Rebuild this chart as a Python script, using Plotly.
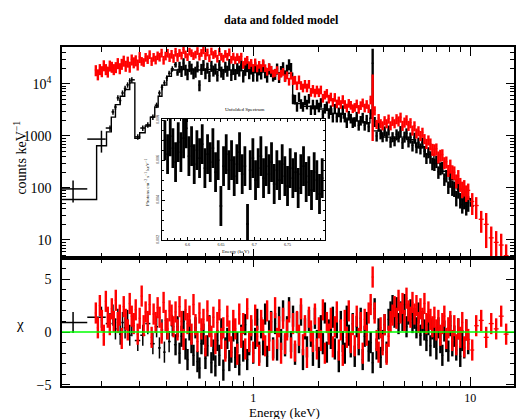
import numpy as np
import plotly.graph_objects as go

# ---------------- channel grid (keV) ----------------
channel_energy = [
    0.1884, 0.1925, 0.1966, 0.2008, 0.2050, 0.2095, 0.2139, 0.2185, 0.2232, 0.2279,
    0.2328, 0.2378, 0.2429, 0.2480, 0.2533, 0.2587, 0.2643, 0.2699, 0.2757, 0.2816,
    0.2876, 0.2937, 0.3000, 0.3064, 0.3130, 0.3196, 0.3265, 0.3334, 0.3406, 0.3478,
    0.3553, 0.3629, 0.3706, 0.3785, 0.3866, 0.3949, 0.4033, 0.4119, 0.4207, 0.4297,
    0.4389, 0.4482, 0.4578, 0.4676, 0.4776, 0.4878, 0.4982, 0.5088, 0.5197, 0.5308,
    0.5421, 0.5537, 0.5655, 0.5776, 0.5899, 0.6025, 0.6153, 0.6284, 0.6419, 0.6556,
    0.6695, 0.6838, 0.6984, 0.7133, 0.7286, 0.7441, 0.7600, 0.7762, 0.7928, 0.8097,
    0.8270, 0.8446, 0.8627, 0.8811, 0.8999, 0.9190, 0.9386, 0.9586, 0.9791, 1.0000,
    1.0214, 1.0432, 1.0654, 1.0882, 1.1114, 1.1351, 1.1593, 1.1841, 1.2093, 1.2352,
    1.2615, 1.2884, 1.3159, 1.3440, 1.3727, 1.4020, 1.4319, 1.4625, 1.4937, 1.5256,
    1.5581, 1.5914, 1.6254, 1.6600, 1.6955, 1.7317, 1.7686, 1.8064, 1.8449, 1.8843,
    1.9245, 1.9656, 2.0076, 2.0504, 2.0942, 2.1389, 2.1845, 2.2311, 2.2788, 2.3274,
    2.3771, 2.4278, 2.4796, 2.5325, 2.5866, 2.6418, 2.6982, 2.7558, 2.8146, 2.8747,
    2.9360, 2.9987, 3.0627, 3.1281, 3.1948, 3.2630, 3.3327, 3.4038, 3.4764, 3.5506,
    3.6264, 3.7038, 3.7829, 3.8636, 3.9461, 4.0303, 4.1163, 4.2042, 4.2939, 4.3856,
    4.4792, 4.5748, 4.6724, 4.7722, 4.8740, 4.9781, 5.0843, 5.1928, 5.3037, 5.4169,
    5.5325, 5.6506, 5.7712, 5.8944, 6.0202, 6.1487, 6.2799, 6.4140, 6.5509, 6.6907,
    6.8335, 6.9793, 7.1283, 7.2805, 7.4359, 7.5946, 7.7567, 7.9222, 8.0913, 8.2640,
    8.4404, 8.6205, 8.8045, 8.9924, 9.1844, 9.3804, 9.5806, 9.7851,
    10.21, 10.65, 11.23, 11.84, 12.49, 13.16, 13.88, 14.63,
]

# ---------------- red spectrum (counts/keV) and residuals ----------------
red_counts = [
    18500, 15400, 19400, 17700, 23000, 19400, 17400, 22700, 21500, 19400,
    21200, 25300, 20200, 24500, 28200, 22500, 27000, 21600, 29700, 26200,
    28600, 23800, 33100, 27600, 26300, 33000, 29900, 37200, 27400, 33000,
    29300, 35300, 33200, 39800, 29000, 35000, 39600, 32700, 37800, 31400,
    41400, 33000, 39900, 35500, 45400, 37500, 33200, 42300, 39500, 34800,
    37100, 43500, 34000, 40000, 44900, 34800, 40800, 31700, 42600, 36400,
    38500, 31000, 41800, 33700, 31200, 38200, 33800, 41000, 29600, 34000,
    28800, 33200, 29700, 33900, 23500, 27300, 29400, 23200, 25700, 20600,
    26300, 20200, 23600, 20500, 25400, 20400, 17400, 21300, 19000, 16000,
    16500, 18700, 14200, 16000, 17300, 13100, 14800, 11200, 14600, 11800,
    12000, 9400, 12200, 9500, 8500, 10000, 8500, 10000, 7000, 8000,
    6800, 7800, 6900, 7800, 5400, 6200, 6700, 5200, 5700, 4500,
    5600, 4200, 4800, 4100, 5100, 4100, 3500, 4300, 3950, 3400,
    3600, 4200, 3300, 3900, 4400, 3500, 4100, 3400, 5000, 8000,
    3100, 1700, 2200, 1750, 1600, 2000, 1750, 2150, 1600, 1950,
    1750, 2150, 1950, 2300, 1600, 1850, 2050, 1600, 1800, 1300,
    1570, 1140, 1260, 1020, 1180, 890, 720, 840, 710, 560,
    550, 570, 400, 430, 440, 310, 320, 220, 270, 210,
    200, 140, 170, 120, 98, 105, 83, 90,
    55, 46, 25, 20, 11, 9, 8, 5,
]
red_chi = [
    1.8, 0.4, 2.5, 1.1, -0.3, 2.9, 1.4, 0.7, 2.2, 1.0,
    3.0, 0.9, 1.6, -0.6, 2.4, 1.2, 0.2, 2.7, 1.5, 0.8,
    2.1, -0.2, 1.3, 3.4, 0.6, 1.9, 1.0, 2.6, -0.5, 1.7,
    0.9, 2.3, 1.4, -0.1, 2.8, 1.1, 0.3, 2.0, 1.6, 0.5,
    1.9, 0.2, 2.4, 1.0, -0.7, 2.1, 0.8, 1.5, -0.2, 2.6,
    0.7, -0.9, 1.8, 0.3, 1.2, -1.3, 2.0, 0.5, -0.4, 1.4,
    -1.1, 0.9, 2.1, -0.6, 0.4, -1.8, 1.5, 0.1, -1.4, 1.1,
    0.3, -2.1, 1.7, -0.5, 0.8, -1.6, 2.2, -0.9, 0.6, -1.9,
    1.6, -0.4, -2.2, 1.1, 0.2, -1.3, 2.0, -0.8, 0.9, -1.7,
    2.3, -0.6, 0.5, -2.0, 1.3, -1.1, 0.2, 1.9, -1.5, 0.8,
    -1.8, 1.0, -0.3, 2.2, -1.2, 0.6, -2.4, 1.4, 0.1, -0.9,
    1.7, -1.6, 0.4, -0.8, 2.1, -2.0, 0.9, -0.2, 1.3, -1.4,
    0.5, 1.9, -1.7, 0.2, -2.2, 1.1, -0.5, 2.0, -1.0, 0.7,
    -1.3, 1.5, -0.6, 0.9, -2.0, 1.2, -0.3, 1.8, 2.6, 5.2,
    1.8, -0.8, -1.9, 0.4, -1.2, 0.7, -2.1, -0.4, 1.0, 1.6,
    2.4, 1.3, 3.0, 1.8, 2.7, 1.1, 3.2, 2.0, 1.4, 2.8,
    1.7, 2.5, 0.9, 2.2, 1.3, 2.7, 0.8, 1.9, 1.2, 0.5,
    1.4, 0.2, 1.1, -0.3, 0.8, 1.5, -0.6, 0.4, 1.0, -0.8,
    0.6, -1.2, 0.3, -0.5, 0.9, -1.4, 0.2, -0.7,
    -1.7, 0.6, 1.1, -0.5, 0.8, 0.3, 1.5, -0.2,
]

# ---------------- black spectrum ----------------
# broad low-energy bins, followed by the shared channel grid from 0.439 to 9.79 keV
black_low_energy = [
    0.148, 0.200, 0.219, 0.226, 0.232, 0.238, 0.244, 0.250, 0.257, 0.264,
    0.270, 0.276, 0.294, 0.310, 0.327, 0.345, 0.359, 0.370, 0.380, 0.390,
    0.400, 0.410, 0.424,
]
BLACK_GRID = slice(40, 188)
black_counts = [
    96, 870, 1420, 2900, 3600, 5400, 4800, 6700, 8200, 9600,
    11500, 12000, 960, 1420, 1630, 2300, 3900, 6700, 8600, 10500,
    13000, 16000, 19500,
    23500, 16300, 21500, 17900, 25200, 18900, 15500, 22200, 19800, 16200,
    17300, 21900, 9500, 19600, 23200, 16200, 20700, 14300, 22400, 18200,
    19800, 14600, 23200, 17400, 15700, 21500, 18100, 24300, 15000, 19600,
    15600, 20200, 18200, 23000, 14000, 18800, 22100, 16200, 19900, 14500,
    21000, 14600, 19200, 16000, 22600, 16900, 13900, 19900, 17800, 14600,
    15700, 19900, 13700, 17800, 21100, 14700, 18900, 24000, 20400, 5200,
    5100, 3700, 5700, 4200, 3700, 4900, 4100, 5300, 3200, 4100,
    3200, 4100, 3600, 4400, 2600, 3400, 3800, 2700, 3200, 2300,
    3400, 2300, 2900, 2300, 3200, 2300, 1800, 2500, 2200, 1800,
    1900, 2400, 1600, 2000, 2300, 1600, 2100, 1500, 2700, 25000,
    1900, 1000, 1550, 1100, 970, 1250, 1000, 1300, 760, 970,
    810, 1080, 990, 1250, 740, 980, 1130, 790, 940, 660,
    930, 610, 750, 580, 750, 510, 380, 490, 400, 300,
    290, 330, 205, 240, 250, 150, 175, 105, 150, 105,
    100, 66, 93, 60, 48, 58, 44, 52,
]
black_chi = [
    0.9, 1.4, 0.8, 1.6, 0.3, 1.2, -0.2, 0.9, 0.4, 1.1,
    -0.3, 0.6, -0.8, -0.3, 0.8, -1.1, 0.5, -1.5, 0.2, -1.9,
    0.3, -0.9, 0.6,
    -1.2, 0.5, -2.0, -0.4, 1.0, -1.6, -2.6, 0.2, -1.0, -2.2,
    0.4, -2.8, -3.4, -1.1, -0.2, -2.5, -1.3, 0.6, -2.9, -1.7,
    -3.2, -0.8, -2.2, 0.3, -3.6, -1.5, -0.6, -2.7, -1.9, 0.1,
    -2.4, -1.0, -3.1, -0.3, -1.8, 0.7, -2.6, -1.2, 0.2, -2.0,
    -0.6, 1.2, -1.9, 0.4, -1.2, 1.7, -2.3, 0.1, 1.0, -1.5,
    0.8, -1.7, 1.4, -0.7, 2.0, -1.3, 0.5, 2.3, -0.9, 1.5,
    -2.1, 0.9, -1.0, 1.6, -2.6, 0.3, -1.4, 1.1, -0.4, -2.2,
    1.3, -0.8, -2.4, 0.6, -1.1, 1.8, -1.9, 0.2, -0.6, 1.4,
    -1.6, 0.4, -2.8, 1.0, -0.9, -2.0, 1.5, -0.3, -1.4, 0.8,
    -2.3, 0.5, -1.2, 1.3, -2.6, -0.4, 0.9, -1.8, -1.0, -2.9,
    2.2, -1.6, 0.3, -2.4, -0.8, 0.7, -1.9, 1.2, 1.9, 2.5,
    1.4, 2.3, 0.8, 1.9, 1.1, 2.6, 0.5, 1.7, 2.1, 0.9,
    1.3, 0.4, 1.8, -0.3, 1.0, 0.2, -0.8, 0.7, -1.3, 0.3,
    -0.5, -1.6, 0.4, -1.0, -2.2, 0.1, -0.9, -1.8, 0.6, -1.3,
    -0.4, -1.7, 0.3, -2.3, -0.8, -1.5, 0.2, -1.1,
]
N_BLACK_WIDE = len(black_low_energy)

# fractional 1-sigma errors by energy band: (upper edge keV, fraction)
red_error_bands = [(0.30, 0.24), (0.45, 0.19), (1.5, 0.17), (3.50, 0.19), (3.60, 0.90),
                   (4.5, 0.20), (6.5, 0.22), (8.0, 0.26), (9.0, 0.30), (10.0, 0.35),
                   (11.5, 0.45), (20.0, 0.65)]
black_error_bands = [(0.20, 0.45), (0.45, 0.12), (1.5, 0.24), (3.50, 0.21), (3.60, 0.90),
                     (4.5, 0.22), (6.5, 0.24), (8.0, 0.27), (20.0, 0.33)]

# folded model for the black spectrum, as a histogram (left bin edges)
black_model_edges = [
    0.132, 0.190, 0.211, 0.222, 0.232, 0.244, 0.256, 0.270, 0.285, 0.300,
    0.318, 0.336, 0.352, 0.365, 0.380, 0.400, 0.420, 0.450, 0.500, 0.600,
    0.700, 0.800, 0.900, 1.000, 1.200, 1.400, 1.520, 1.700, 2.000, 2.300,
    2.600, 2.900, 3.200, 3.450, 3.550, 3.900, 4.300, 4.700, 5.100, 5.600,
    6.200, 6.800, 7.400, 8.000, 8.700, 9.400, 10.00, 10.40,
]
black_model = [
    60, 650, 1200, 2300, 4000, 5800, 7800, 10500, 900, 1150,
    1550, 2300, 3600, 5800, 9500, 14000, 18500, 19000, 18500, 19000,
    18500, 18000, 17500, 17000, 16500, 16000, 4200, 3700, 3300, 2700,
    2200, 1950, 1800, 2200, 1250, 950, 900, 950, 850, 620,
    440, 300, 210, 145, 95, 62, 45, 45,
]

# Fe K region of the unfolded spectrum (photons cm^-2 s^-1 keV^-1)
inset_energy = [
    6.566, 6.570, 6.574, 6.578, 6.582, 6.586, 6.590, 6.594, 6.598, 6.602,
    6.606, 6.610, 6.614, 6.618, 6.622, 6.626, 6.630, 6.634, 6.638, 6.642,
    6.646, 6.650, 6.654, 6.658, 6.662, 6.666, 6.670, 6.674, 6.678, 6.682,
    6.686, 6.690, 6.694, 6.698, 6.702, 6.706, 6.710, 6.714, 6.718, 6.722,
    6.726, 6.730, 6.734, 6.738, 6.742, 6.746, 6.750, 6.754, 6.758, 6.762,
    6.766, 6.770, 6.774, 6.778, 6.782, 6.786, 6.790, 6.794, 6.798, 6.802,
]
inset_flux = [
    0.0070, 0.0063, 0.0072, 0.0066, 0.0059, 0.0069, 0.0064, 0.0071, 0.0076, 0.0062,
    0.0067, 0.0058, 0.0065, 0.0061, 0.0068, 0.0056, 0.0063, 0.0059, 0.0066, 0.0054,
    0.0060, 0.0037, 0.0057, 0.0063, 0.0055, 0.0060, 0.0052, 0.0058, 0.0064, 0.0053,
    0.0057, 0.0028, 0.0055, 0.0061, 0.0050, 0.0056, 0.0062, 0.0051, 0.0057, 0.0053,
    0.0059, 0.0048, 0.0055, 0.0050, 0.0058, 0.0052, 0.0047, 0.0056, 0.0051, 0.0054,
    0.0046, 0.0053, 0.0057, 0.0049, 0.0052, 0.0045, 0.0054, 0.0050, 0.0043, 0.0051,
]
inset_err = 0.0010

E_RANGE = [np.log10(0.1316), np.log10(15.9)]
SERIF = "Liberation Serif"
RED = "#ff0000"
BLACK = "#000000"

red_energy = np.asarray(channel_energy, float)
black_energy = np.concatenate([black_low_energy, channel_energy[BLACK_GRID]])
assert len(red_energy) == len(red_counts) == len(red_chi)
assert len(black_energy) == len(black_counts) == len(black_chi)


def band_errors(energy, counts, bands):
    edges = np.array([b[0] for b in bands])
    fracs = np.array([b[1] for b in bands])
    idx = np.searchsorted(edges, np.asarray(energy), side="left")
    return np.asarray(counts, float) * fracs[np.clip(idx, 0, len(fracs) - 1)]


def bin_halfwidths(energy):
    """Half widths of the energy bins, taken from the midpoints between channels."""
    e = np.asarray(energy, float)
    mids = np.sqrt(e[1:] * e[:-1])
    lo = np.empty_like(e)
    hi = np.empty_like(e)
    lo[1:] = e[1:] - mids
    hi[:-1] = mids - e[:-1]
    lo[0] = hi[0]
    hi[-1] = lo[-1]
    return lo, hi


def spectrum_trace(energy, values, errors, lo, hi, color, xa, ya, width, xwidth):
    return go.Scatter(
        x=energy, y=values, mode="markers", xaxis=xa, yaxis=ya,
        marker=dict(size=1, color=color),
        error_y=dict(type="data", array=errors, color=color, thickness=width, width=0),
        error_x=dict(type="data", array=hi, arrayminus=lo, color=color,
                     thickness=xwidth, width=0),
        showlegend=False, hoverinfo="skip",
    )


red_err = band_errors(red_energy, red_counts, red_error_bands)
black_err = band_errors(black_energy, black_counts, black_error_bands)
red_lo, red_hi = bin_halfwidths(red_energy)
blk_lo, blk_hi = bin_halfwidths(black_energy)
ones_red = np.ones(len(red_chi))
ones_blk = np.ones(len(black_chi))
n = N_BLACK_WIDE
THICK, THICK_X = 2.4, 1.3
THIN = 1.5

fig = go.Figure()

# upper panel: data and folded model
fig.add_trace(go.Scatter(x=black_model_edges, y=black_model, mode="lines",
                         line=dict(color=BLACK, width=1.4, shape="hv"),
                         xaxis="x", yaxis="y", showlegend=False, hoverinfo="skip"))
fig.add_trace(spectrum_trace(black_energy[:n], black_counts[:n], black_err[:n],
                             blk_lo[:n], blk_hi[:n], BLACK, "x", "y", THIN, THIN))
fig.add_trace(spectrum_trace(black_energy[n:], black_counts[n:], black_err[n:],
                             blk_lo[n:], blk_hi[n:], BLACK, "x", "y", THICK, THICK_X))
fig.add_trace(spectrum_trace(red_energy, red_counts, red_err, red_lo, red_hi,
                             RED, "x", "y", THICK, THICK_X))

# lower panel: residuals in units of sigma
fig.add_trace(spectrum_trace(black_energy[:n], black_chi[:n], ones_blk[:n],
                             blk_lo[:n], blk_hi[:n], BLACK, "x2", "y2", THIN, THIN))
fig.add_trace(spectrum_trace(black_energy[n:], black_chi[n:], ones_blk[n:],
                             blk_lo[n:], blk_hi[n:], BLACK, "x2", "y2", THICK, THICK_X))
fig.add_trace(spectrum_trace(red_energy, red_chi, ones_red, red_lo, red_hi,
                             RED, "x2", "y2", THICK, THICK_X))

# inset: unfolded spectrum around the Fe K lines
fig.add_trace(go.Scatter(
    x=inset_energy, y=inset_flux, mode="markers", xaxis="x3", yaxis="y3",
    marker=dict(size=1, color=BLACK),
    error_y=dict(type="constant", value=inset_err, color=BLACK, thickness=2.8, width=0),
    error_x=dict(type="constant", value=0.002, color=BLACK, thickness=1.4, width=0),
    showlegend=False, hoverinfo="skip",
))

minor_e = [m * d for d in (0.1, 1.0, 10.0) for m in range(2, 10)]
minor_c = [m * d for d in (1, 10, 100, 1000, 10000) for m in range(2, 10)]

axis_common = dict(showline=True, linecolor=BLACK, linewidth=1.5, mirror="ticks",
                   ticks="inside", tickcolor=BLACK, tickwidth=1.2,
                   showgrid=False, zeroline=False,
                   tickfont=dict(family=SERIF, size=14, color=BLACK))
minor_common = dict(ticks="inside", tickcolor=BLACK, tickwidth=1.0, showgrid=False)

TOP_DOMAIN = [0.3776, 1.0]
BOTTOM_DOMAIN = [0.0, 0.3776]


def note(text, x, y, size, angle=0, bold=False):
    return dict(text=f"<b>{text}</b>" if bold else text, x=x, y=y,
                xref="paper", yref="paper", xanchor="center", yanchor="middle",
                showarrow=False, textangle=angle,
                font=dict(family=SERIF, size=size, color=BLACK))


xaxis2_style = dict(axis_common)
xaxis2_style["tickfont"] = dict(family=SERIF, size=12, color=BLACK)

fig.update_layout(
    width=517, height=419,
    margin=dict(l=62, r=1, t=47, b=33),
    paper_bgcolor="white", plot_bgcolor="white",
    xaxis=dict(type="log", range=E_RANGE, domain=[0, 1], anchor="y",
               tickvals=[1, 10], showticklabels=False, ticklen=9,
               minor=dict(tickmode="array", tickvals=minor_e, ticklen=5, **minor_common),
               **axis_common),
    yaxis=dict(type="log", range=[0.654, 4.71], domain=TOP_DOMAIN, anchor="x",
               tickvals=[10, 100, 1000, 10000],
               ticktext=["10", "100", "1000", "10<sup>4</sup>"],
               ticklen=8, ticklabelstandoff=6,
               minor=dict(tickmode="array", tickvals=minor_c, ticklen=4, **minor_common),
               **axis_common),
    xaxis2=dict(type="log", range=E_RANGE, domain=[0, 1], anchor="y2",
                tickvals=[1, 10], ticktext=["1", "10"], ticklen=9,
                minor=dict(tickmode="array", tickvals=minor_e, ticklen=5, **minor_common),
                **xaxis2_style),
    yaxis2=dict(range=[-5.1, 7.0], domain=BOTTOM_DOMAIN, anchor="x2",
                tickvals=[-5, 0, 5], ticktext=["\u22125", "0", "5"],
                ticklen=8, ticklabelstandoff=6,
                minor=dict(dtick=1, ticklen=4, **minor_common),
                **axis_common),
    xaxis3=dict(range=[6.561, 6.806], domain=[0.2203, 0.5815], anchor="y3",
                tickvals=[6.6, 6.65, 6.7, 6.75], ticktext=["6.6", "6.65", "6.7", "6.75"],
                showline=True, linecolor=BLACK, linewidth=1.2, mirror="ticks",
                ticks="inside", ticklen=3, tickcolor=BLACK, tickwidth=1,
                showgrid=False, zeroline=False,
                minor=dict(dtick=0.01, ticklen=2, **minor_common),
                tickfont=dict(family=SERIF, size=4, color=BLACK)),
    yaxis3=dict(range=[0.002, 0.00806], domain=[0.4307, 0.7876], anchor="x3",
                tickvals=[0.002, 0.004, 0.006, 0.008],
                ticktext=["0.002", "0.004", "0.006", "0.008"], tickangle=-90,
                showline=True, linecolor=BLACK, linewidth=1.2, mirror="ticks",
                ticks="inside", ticklen=3, tickcolor=BLACK, tickwidth=1,
                showgrid=False, zeroline=False,
                minor=dict(dtick=0.0005, ticklen=2, **minor_common),
                tickfont=dict(family=SERIF, size=4, color=BLACK)),
    shapes=[dict(type="line", xref="x2 domain", yref="y2", x0=0, x1=1, y0=0, y1=0,
                 line=dict(color="#00ff00", width=1.6), layer="above")],
    annotations=[
        note("data and folded model", 0.4846, 1.0796, 12, bold=True),
        note("counts keV<sup>\u22121</sup>", -0.092, 0.675, 14, angle=-90),
        note("\u03c7", -0.093, 0.183, 15),
        note("Energy (keV)", 0.493, -0.0785, 13),
        note("Unfolded Spectrum", 0.403, 0.817, 5),
        note("Energy (keV)", 0.385, 0.398, 5),
        note("Photons cm<sup>\u22122</sup> s<sup>\u22121</sup> keV<sup>\u22121</sup>",
             0.187, 0.60, 5, angle=-90),
    ],
)

fig.write_html("out.html")
